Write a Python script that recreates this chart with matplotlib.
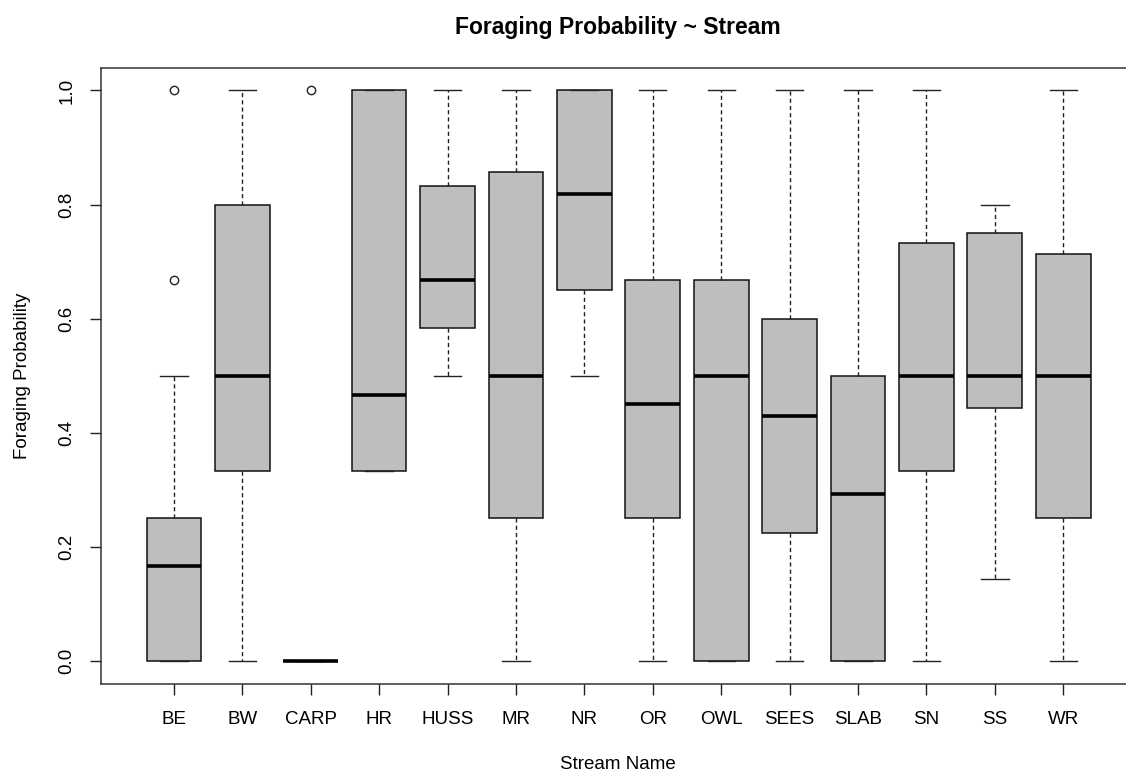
import matplotlib.pyplot as plt
import numpy as np

plt.rcParams['font.family'] = ['Liberation Sans', 'DejaVu Sans']

# stream names
streams = ["BE", "BW", "CARP", "HR", "HUSS", "MR", "NR", "OR", "OWL", "SEES", "SLAB", "SN", "SS", "WR"]

# five number summaries
whislo = [0.0, 0.0, 0.0, 0.333, 0.5, 0.0, 0.5, 0.0, 0.0, 0.0, 0.0, 0.0, 0.143, 0.0]
q1 = [0.0, 0.333, 0.0, 0.333, 0.583, 0.25, 0.65, 0.25, 0.0, 0.224, 0.0, 0.333, 0.444, 0.25]
med = [0.167, 0.5, 0.0, 0.467, 0.667, 0.5, 0.818, 0.45, 0.5, 0.429, 0.292, 0.5, 0.5, 0.5]
q3 = [0.25, 0.8, 0.0, 1.0, 0.833, 0.857, 1.0, 0.667, 0.667, 0.6, 0.5, 0.733, 0.75, 0.714]
whishi = [0.5, 1.0, 0.0, 1.0, 1.0, 1.0, 1.0, 1.0, 1.0, 1.0, 1.0, 1.0, 0.8, 1.0]

# outliers
fliers = {"BE": [0.667, 1.0], "CARP": [1.0]}


def foraging():
    stats = []
    for i, s in enumerate(streams):
        stats.append({"label": s, "whislo": whislo[i], "q1": q1[i], "med": med[i],
                      "q3": q3[i], "whishi": whishi[i], "fliers": fliers.get(s, [])})

    fig = plt.figure(figsize=(11.26, 7.76), dpi=100)
    # plot region runs a bit past the right edge of the picture (as in the original)
    axes = fig.add_axes([0.0894, 0.1188, 0.9193, 0.794])

    pos = np.arange(1, len(streams) + 1)
    axes.bxp(stats, positions=pos, widths=0.8, patch_artist=True,
             boxprops=dict(facecolor="#bebebe", edgecolor="#111111", linewidth=1.1),
             medianprops=dict(color="black", linewidth=2.6, solid_capstyle="butt"),
             whiskerprops=dict(color="#222222", linewidth=1.0, linestyle=(0, (3, 2.2))),
             capprops=dict(color="#222222", linewidth=1.0),
             capwidths=0.4,
             flierprops=dict(marker="o", markerfacecolor="none", markeredgecolor="#222222",
                             markersize=6, markeredgewidth=1.0))

    axes.set_xlim(-0.07, 15.06)
    axes.set_ylim(-0.04, 1.04)
    axes.set_yticks([0.0, 0.2, 0.4, 0.6, 0.8, 1.0])
    axes.set_yticklabels(["0.0", "0.2", "0.4", "0.6", "0.8", "1.0"], rotation=90, va="center")
    axes.set_xticks(pos)
    axes.set_xticklabels(streams)
    axes.tick_params(labelsize=13.5, length=8, width=1.0, color="#222222")
    axes.tick_params(axis="y", pad=10)
    axes.tick_params(axis="x", pad=11.5)

    axes.set_title("Foraging Probability ~ Stream", fontweight="bold", fontsize=16.5, pad=24)
    axes.set_xlabel("Stream Name", fontsize=13.5, labelpad=20)
    axes.set_ylabel("Foraging Probability", fontsize=13.5, labelpad=20)

    for sp in axes.spines.values():
        sp.set_linewidth(1.1)
        sp.set_color("#333333")

    plt.savefig("out.png", dpi=100)


foraging()
